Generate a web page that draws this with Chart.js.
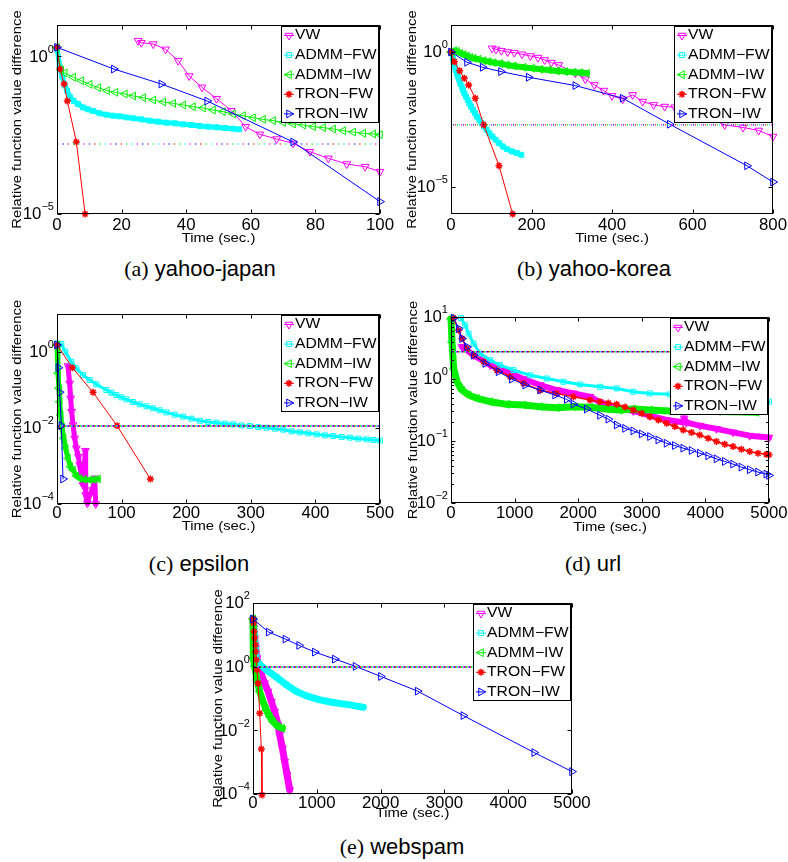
<!DOCTYPE html>
<html>
<head>
<meta charset="utf-8">
<script src="https://cdn.jsdelivr.net/npm/chart.js@4.4.1/dist/chart.umd.min.js"></script>
<style>
body { margin: 0; background: #fff; width: 788px; height: 862px; position: relative; overflow: hidden; }
canvas { position: absolute; }
.cap { position: absolute; font: 22px "Liberation Sans", Arial, sans-serif; white-space: nowrap; transform: translate(-50%, -50%); color: #000; }
.cap span { font-family: "Liberation Serif", "Times New Roman", serif; }
</style>
</head>
<body>
<canvas id="chartA" width="395" height="252" style="left:0px;top:0px"></canvas>
<canvas id="chartB" width="393" height="252" style="left:395px;top:0px"></canvas>
<canvas id="chartC" width="395" height="255" style="left:0px;top:290px"></canvas>
<canvas id="chartD" width="393" height="255" style="left:395px;top:290px"></canvas>
<canvas id="chartE" width="410" height="245" style="left:190px;top:585px"></canvas>
<div class="cap" style="left:200px;top:269px"><span>(a)</span> yahoo-japan</div>
<div class="cap" style="left:594px;top:269px"><span>(b)</span> yahoo-korea</div>
<div class="cap" style="left:199px;top:564px"><span>(c)</span> epsilon</div>
<div class="cap" style="left:593px;top:564px"><span>(d)</span> url</div>
<div class="cap" style="left:402px;top:847px"><span>(e)</span> webspam</div>
<script>
// series: [time (sec.), relative function value difference]
var seriesNames = ['VW', 'ADMM\u2212FW', 'ADMM\u2212IW', 'TRON\u2212FW', 'TRON\u2212IW'];

// (a) yahoo-japan
var japanVW = [[25.1,3.18],[26.1,2.75],[29.8,2.49],[33.6,1.69],[37.5,0.737],[40.9,0.24],[44.9,0.105],[49.4,0.0458],[54.0,0.0191],[58.4,0.0059],[62.8,0.00338],[68.0,0.0024],[73.1,0.00175],[78.3,9.5e-4],[84.0,5.85e-4],[89.7,3.86e-4],[95.4,3.18e-4],[100,2.21e-4]];
var japanAdmmFW = [[0,1.95],[0.83,0.476],[1.65,0.229],[2.38,0.125],[3.1,0.0823],[4.13,0.0505],[5.17,0.0387],[6.5,0.031],[8.06,0.0243],[9.6,0.021],[11.2,0.0186],[13.2,0.0157],[15.3,0.0142],[17.4,0.0132],[19.4,0.0126],[21.5,0.0117],[23.6,0.0109],[26.1,0.0101],[28.7,0.00918],[31.3,0.00853],[33.9,0.00793],[36.5,0.00755],[39.0,0.00702],[41.6,0.00669],[44.2,0.00622],[46.8,0.00592],[49.4,0.00564],[52.0,0.00537],[54.5,0.00512],[56.4,0.00487]];
var japanAdmmIW = [[0,1.95],[1.3,0.373],[2.4,0.3],[5.0,0.22],[7.5,0.17],[10.1,0.131],[12.8,0.1025],[15.5,0.0823],[18.1,0.0728],[21.0,0.0645],[23.6,0.0557],[26.7,0.0493],[29.8,0.0416],[32.9,0.036],[36.0,0.0326],[39.1,0.0289],[42.1,0.0255],[45.2,0.0232],[48.3,0.02],[51.4,0.0177],[54.5,0.015],[57.6,0.0132],[60.7,0.0114],[63.8,0.0101],[66.9,0.0092],[70.0,0.0081],[73.1,0.0072],[76.2,0.0067],[79.3,0.0059],[82.4,0.0055],[85.5,0.005],[88.6,0.0044],[91.7,0.004],[94.8,0.00364],[97.9,0.00347],[100,0.0033]];
var japanTronFW = [[0,1.95],[0.9,0.4],[2.2,0.134],[3.2,0.0386],[6.0,0.00193],[8.7,1e-5]];
var japanTronIW = [[0,1.95],[17.6,0.4],[32.3,0.134],[46.5,0.0386],[73.1,0.00193],[100,2.47e-5]];
var japanRef = 0.00167;
var japanXTicks = [0, 20, 40, 60, 80, 100];
var japanYExp = [0, -5];

// (b) yahoo-korea
var koreaVW = [[101.9,1.37],[111.8,1.26],[125,1.12],[140.8,1.0],[157.3,0.948],[176.4,0.822],[197.1,0.713],[216.1,0.619],[232.7,0.507],[249.3,0.404],[267.5,0.332],[308.9,0.163],[333.7,0.098],[356.1,0.0604],[379.3,0.0373],[400,0.0237],[426.5,0.0178],[451.3,0.0258],[476.2,0.0146],[503.5,0.011],[530.8,0.00955],[555.7,0.00902],[582.2,0.0072],[611.2,0.0054],[641.8,0.00385],[679.9,0.002],[725.5,0.0016],[764.4,0.00124],[800,7.4e-4]];
var koreaAdmmFW = [[0,0.98],[2.5,0.895],[5.0,0.585],[6.6,0.404],[9.1,0.288],[11.6,0.217],[14.9,0.163],[17.4,0.123],[20.7,0.0925],[23.2,0.0696],[26.5,0.0524],[29.8,0.0395],[33.1,0.0297],[37.3,0.0224],[41.4,0.0169],[45.5,0.0127],[49.7,0.00955],[54.7,0.0072],[59.6,0.00542],[64.6,0.00408],[70.4,0.00307],[76.2,0.00231],[82.0,0.00174],[88.6,0.00131],[95.2,9.86e-4],[102.7,7.43e-4],[111.0,5.59e-4],[119.3,4.21e-4],[129.2,3.17e-4],[139.1,2.52e-4],[151.6,2.07e-4],[164.0,1.8e-4],[174.7,1.56e-4]];
var koreaAdmmIW = [[0,1.0],[2.5,0.975],[8.3,1.12],[14.9,1.06],[23.2,0.895],[31.5,0.8],[39.8,0.713],[48.0,0.637],[56.3,0.585],[68.7,0.537],[81.2,0.48],[93.6,0.44],[106.0,0.404],[122.6,0.371],[139.1,0.332],[155.7,0.305],[180.5,0.272],[201.2,0.25],[221.9,0.229],[242.6,0.217],[263.4,0.199],[284.1,0.188],[304.8,0.178],[321.3,0.173],[337.9,0.163]];
var koreaTronFW = [[0,1.0],[8.3,0.44],[21.5,0.2],[33.1,0.107],[43.9,0.0604],[60.4,0.0194],[81.2,0.002],[119.3,6.1e-5],[153.2,1e-6]];
var koreaTronIW = [[0,1.0],[39.8,0.416],[78.7,0.272],[124.2,0.188],[193,0.116],[308.9,0.057],[426.5,0.0194],[543.3,0.00212],[735.4,6.1e-5],[800,1.52e-5]];
var koreaRef = 0.002;
var koreaXTicks = [0, 200, 400, 600, 800];
var koreaYExp = [0, -5];

// (c) epsilon
var epsilonVW = [[17.0,0.428],[19.6,0.15],[21.2,0.0604],[22.7,0.0269],[24.8,0.012],[27.4,0.00535],[30.0,0.00292],[33.1,0.00176],[35.1,0.00106],[37.7,5.8e-4],[40.3,3.16e-4],[43.9,0.00253],[44.4,1.73e-4],[47.0,1.04e-4],[50.6,1.73e-4],[54.8,2.33e-4],[58.4,4.73e-4],[59.9,1e-4]];
var epsilonAdmmFW = [[0,1.69],[6.7,1.62],[12.9,1.02],[22.2,0.557],[30.0,0.372],[40.3,0.248],[50.6,0.183],[61.0,0.141],[76.4,0.1],[84.2,0.0851],[91.9,0.0738],[99.7,0.0641],[107.4,0.0568],[117.8,0.0483],[128.1,0.042],[138.4,0.0372],[148.8,0.033],[159.1,0.0292],[169.4,0.0258],[182.3,0.0224],[195.2,0.0199],[208.2,0.0176],[221.1,0.0156],[234.0,0.0144],[246.9,0.0138],[259.8,0.013],[272.7,0.0125],[285.6,0.0117],[298.6,0.0113],[311.5,0.0106],[324.4,0.0102],[337.3,0.0096],[350.2,0.00904],[363.1,0.00817],[376.0,0.00769],[388.9,0.00724],[401.9,0.00681],[414.8,0.00641],[427.7,0.00615],[440.6,0.0058],[453.5,0.00557],[466.4,0.00524],[479.3,0.00503],[489.7,0.00483],[500,0.00464]];
var epsilonAdmmIW = [[0,1.53],[1.5,0.275],[3.1,0.111],[4.1,0.0493],[5.7,0.022],[7.7,0.0108],[10.3,0.00535],[13.4,0.00292],[17.0,0.00159],[20.7,9.6e-4],[24.8,7.85e-4],[30,5.5e-4],[35.1,4.73e-4],[42,4.4e-4],[50.6,4.3e-4],[57,4.4e-4],[63.5,4.55e-4]];
var epsilonTronFW = [[0,1.53],[23.8,0.387],[55.8,0.0868],[93.0,0.0115],[144.6,4.55e-4]];
var epsilonTronIW = [[0,1.53],[2.1,0.387],[4.1,0.0868],[6.7,0.0115],[9.3,4.55e-4]];
var epsilonRef = 0.0113;
var epsilonXTicks = [0, 100, 200, 300, 400, 500];
var epsilonYExp = [0, -2, -4];

// (d) url
var urlVW = [[173,3.3],[356,2.42],[617,1.67],[879,1.31],[1140,1.0],[1402,0.8],[1663,0.663],[1925,0.586],[2186,0.518],[2343,0.42],[2605,0.345],[2866,0.305],[3128,0.256],[3389,0.218],[3651,0.2],[3666,0.232],[3700,0.198],[3912,0.177],[4174,0.157],[4435,0.138],[4697,0.122],[5000,0.1135]];
var urlAdmmFW = [[157,9.6],[225,7.35],[277,5.4],[356,3.73],[460,2.58],[617,2.01],[774,1.67],[983,1.39],[1245,1.15],[1506,1.02],[1768,0.902],[2029,0.817],[2343,0.75],[2605,0.705],[2866,0.623],[3128,0.586],[3441,0.565],[5000,0.43]];
var urlAdmmIW = [[0,9.4],[16,3.96],[42,1.48],[94,0.9],[173,0.663],[277,0.551],[408,0.487],[617,0.43],[879,0.39],[1140,0.38],[1402,0.358],[1663,0.345],[1925,0.358],[2186,0.349],[2448,0.328],[2657,0.316],[2866,0.328],[3128,0.316],[3441,0.305],[4200,0.3],[4800,0.29]];
var urlTronFW = [[42,9.6],[120,6.1],[173,4.49],[251,3.1],[356,2.42],[513,1.89],[722,1.39],[931,1.09],[1140,0.85],[1402,0.66],[1663,0.586],[1925,0.518],[2186,0.458],[2343,0.43],[2474,0.41],[2605,0.39],[2736,0.353],[2866,0.316],[2997,0.279],[3128,0.247],[3259,0.218],[3389,0.193],[3520,0.171],[3651,0.151],[3782,0.137],[3912,0.125],[4043,0.111],[4174,0.098],[4305,0.0887],[4435,0.0814],[4566,0.0738],[4697,0.0676],[4828,0.0636],[4958,0.0614],[5000,0.0598]];
var urlTronIW = [[42,9.6],[120,6.5],[173,4.49],[251,3.3],[356,2.42],[539,1.78],[748,1.31],[957,0.996],[1166,0.797],[1402,0.663],[1637,0.551],[1820,0.469],[1925,0.394],[2134,0.328],[2343,0.26],[2474,0.225],[2605,0.182],[2736,0.16],[2866,0.1455],[2997,0.13],[3128,0.118],[3259,0.104],[3389,0.092],[3520,0.0845],[3651,0.0766],[3782,0.0702],[3912,0.0636],[4043,0.0577],[4174,0.0516],[4305,0.0468],[4435,0.0424],[4566,0.0379],[4697,0.0344],[4828,0.0315],[4958,0.0292],[5000,0.0279]];
var urlRef = 2.74;
var urlXTicks = [0, 1000, 2000, 3000, 4000, 5000];
var urlYExp = [1, 0, -1, -2];

// (e) webspam
var webspamVW = [[0,29.9],[10,16.3],[26,7.92],[42,3.84],[63,1.86],[94,1.02],[131,0.556],[183,0.303],[236,0.166],[288,0.0805],[340,0.039],[393,0.0148],[419,0.0072],[461,0.00274],[497,0.00104],[534,3.96e-4],[576,1.34e-4]];
var webspamAdmmFW = [[0,33.7],[52,1.65],[105,1.15],[209,0.798],[366,0.469],[524,0.269],[681,0.166],[838,0.121],[1047,0.0908],[1257,0.0748],[1518,0.0632],[1728,0.0533]];
var webspamAdmmIW = [[0,31.3],[5,1.86],[26,1.02],[63,0.386],[105,0.166],[157,0.0805],[209,0.044],[262,0.0271],[314,0.0189],[393,0.0131],[461,0.0116]];
var webspamTronFW = [[0,32.1],[10,23.5],[16,12.8],[26,7.92],[37,4.89],[42,3.01],[52,1.65],[63,0.798],[79,0.303],[105,0.0345],[131,0.0026],[141,9.3e-5]];
var webspamTronIW = [[0,31.3],[246,12.2],[508,7.36],[723,4.66],[969,2.87],[1283,1.73],[1607,1.02],[2005,0.492],[2581,0.17],[3298,0.029],[4408,0.002],[5000,5.05e-4]];
var webspamRef = 0.98;
var webspamXTicks = [0, 1000, 2000, 3000, 4000, 5000];
var webspamYExp = [2, 0, -2, -4];

var xTitle = 'Time (sec.)';
var yTitle = 'Relative function value difference';

// looks
var seriesColors = ['#ff00ff', '#00ffff', '#00f000', '#ff0000', '#0000ff'];
var seriesStyles = [
    { pointStyle: 'triangle', rotation: 180, radius: 4.5, width: 1 },
    { pointStyle: 'rect', rotation: 0, radius: 3.5, width: 1 },
    { pointStyle: 'triangle', rotation: 270, radius: 4.5, width: 1 },
    { pointStyle: 'star', rotation: 0, radius: 3.5, width: 1.5 },
    { pointStyle: 'triangle', rotation: 90, radius: 4.5, width: 1 }
];
var SANS = '"Liberation Sans", Arial, Helvetica, sans-serif';

function drawText(ctx, s, x, y, size, align, sx) {
    ctx.save();
    ctx.font = size + 'px ' + SANS;
    ctx.textAlign = align;
    ctx.textBaseline = 'middle';
    ctx.translate(x, y);
    ctx.scale(sx, 1);
    ctx.fillText(s, 0, 0);
    ctx.restore();
}

function textWidth(ctx, s, size, sx) {
    ctx.save();
    ctx.font = size + 'px ' + SANS;
    var w = ctx.measureText(s).width * sx;
    ctx.restore();
    return w;
}

function axesPlugin(panel) {
    return {
        id: 'matlabAxes',
        afterDatasetsDraw: function (chart) {
            var ctx = chart.ctx, a = chart.chartArea;
            var xs = chart.scales.x, ys = chart.scales.y;
            var L = Math.round(a.left) + 0.5, R = Math.round(a.right) - 0.5;
            var T = Math.round(a.top) + 0.5, B = Math.round(a.bottom) - 0.5;
            ctx.save();
            ctx.strokeStyle = '#000';
            ctx.fillStyle = '#000';
            ctx.lineWidth = 1;
            ctx.strokeRect(L, T, R - L, B - T);

            ctx.beginPath();
            panel.xTicks.forEach(function (v) {
                var x = Math.round(xs.getPixelForValue(v)) + 0.5;
                ctx.moveTo(x, B); ctx.lineTo(x, B - 4);
                ctx.moveTo(x, T); ctx.lineTo(x, T + 4);
            });
            panel.yExp.forEach(function (e) {
                var y = Math.round(ys.getPixelForValue(Math.pow(10, e))) + 0.5;
                ctx.moveTo(L, y); ctx.lineTo(L + 4, y);
                ctx.moveTo(R, y); ctx.lineTo(R - 4, y);
            });
            if (panel.minor) {
                for (var e = -2; e < 1; e++) {
                    for (var m = 2; m < 10; m++) {
                        var y = Math.round(ys.getPixelForValue(m * Math.pow(10, e))) + 0.5;
                        ctx.moveTo(L, y); ctx.lineTo(L + 2.5, y);
                        ctx.moveTo(R, y); ctx.lineTo(R - 2.5, y);
                    }
                }
            }
            ctx.stroke();

            panel.xTicks.forEach(function (v) {
                drawText(ctx, String(v), xs.getPixelForValue(v), a.bottom + panel.tickDy, 16, 'center', 1.05);
            });
            panel.yExp.forEach(function (e) {
                var y = ys.getPixelForValue(Math.pow(10, e));
                var ex = e < 0 ? '\u2212' + (-e) : String(e);
                var xr = a.left - 3;
                var ew = textWidth(ctx, ex, 10.5, 1.05);
                drawText(ctx, ex, xr, y - 6.5, 10.5, 'right', 1.05);
                drawText(ctx, '10', xr - ew, y + 1, 16, 'right', 1.05);
            });

            drawText(ctx, xTitle, (a.left + a.right) / 2, a.bottom + panel.titleDy, 13.5, 'center', 1.1);
            ctx.save();
            ctx.translate(a.left + panel.ylabDx, (a.top + a.bottom) / 2);
            ctx.rotate(-Math.PI / 2);
            drawText(ctx, yTitle, 0, 0, 13.5, 'center', 1.1);
            ctx.restore();

            // legend box, top right inside the axes
            var lw = 98, lh = 97;
            var lx = Math.round(a.right) - 1 - lw, ly = Math.round(a.top) + 1;
            ctx.fillStyle = '#fff';
            ctx.fillRect(lx, ly, lw, lh);
            ctx.strokeStyle = '#000';
            ctx.strokeRect(lx + 0.5, ly + 0.5, lw - 1, lh - 1);
            seriesNames.forEach(function (name, i) {
                var st = seriesStyles[i];
                var y = ly + 9.5 + i * 19.6;
                ctx.strokeStyle = seriesColors[i];
                ctx.lineWidth = 1;
                ctx.beginPath();
                ctx.moveTo(lx + 3, y); ctx.lineTo(lx + 13, y);
                ctx.stroke();
                ctx.fillStyle = 'rgba(0,0,0,0)';
                ctx.lineWidth = st.width;
                if (Chart.helpers && Chart.helpers.drawPoint) {
                    Chart.helpers.drawPoint(ctx, { pointStyle: st.pointStyle, rotation: st.rotation, radius: st.radius, borderWidth: st.width }, lx + 8, y);
                }
                ctx.fillStyle = '#000';
                drawText(ctx, name, lx + 14, y, 14, 'left', 1.12);
            });
            ctx.restore();
        }
    };
}

// band: line width that stands in for the tightly packed markers of a series
function seriesDatasets(list, band) {
    return list.map(function (pts, i) {
        var st = seriesStyles[i];
        return {
            label: seriesNames[i],
            data: pts.map(function (p) { return { x: p[0], y: p[1] }; }),
            borderColor: seriesColors[i],
            backgroundColor: 'rgba(0,0,0,0)',
            borderWidth: band[i],
            borderJoinStyle: 'round',
            borderCapStyle: 'round',
            pointStyle: st.pointStyle,
            pointRotation: st.rotation,
            pointRadius: st.radius,
            pointBorderWidth: st.width,
            pointBorderColor: seriesColors[i],
            pointBackgroundColor: 'rgba(0,0,0,0)',
            fill: false,
            tension: 0,
            order: 5 - i,
            clip: 6
        };
    });
}

function refDatasets(value, xMax, mode) {
    var dash = mode === 'sparse' ? [1.5, 25] : (mode === 'mid' ? [1, 9] : [1, 4]);
    var step = mode === 'sparse' ? 5.3 : (mode === 'mid' ? 2 : 1);
    return seriesColors.map(function (c, k) {
        return {
            label: '',
            data: [{ x: 0, y: value }, { x: xMax, y: value }],
            borderColor: c,
            borderWidth: mode === 'dense' ? 1.5 : 1.2,
            borderDash: dash,
            borderDashOffset: k * step,
            pointRadius: 0,
            fill: false,
            order: 0
        };
    });
}

var panels = [
    { canvas: 'chartA', pad: [57, 25, 15, 38], xMax: 100, yMin: 1e-5, yMax: 10, xTicks: japanXTicks, yExp: japanYExp,
      series: [japanVW, japanAdmmFW, japanAdmmIW, japanTronFW, japanTronIW], band: [1, 5, 1, 1, 1], ref: japanRef, refMode: 'sparse',
      tickDy: 12, titleDy: 24.5, ylabDx: -40, minor: false },
    { canvas: 'chartB', pad: [56, 25, 15, 38], xMax: 800, yMin: 1e-6, yMax: 10, xTicks: koreaXTicks, yExp: koreaYExp,
      series: [koreaVW, koreaAdmmFW, koreaAdmmIW, koreaTronFW, koreaTronIW], band: [1, 5, 6, 1, 1], ref: koreaRef, refMode: 'mid',
      tickDy: 12, titleDy: 24.5, ylabDx: -39, minor: false },
    { canvas: 'chartC', pad: [57, 24, 15, 41], xMax: 500, yMin: 1e-4, yMax: 10, xTicks: epsilonXTicks, yExp: epsilonYExp,
      series: [epsilonVW, epsilonAdmmFW, epsilonAdmmIW, epsilonTronFW, epsilonTronIW], band: [5, 3, 5, 1, 1], ref: epsilonRef, refMode: 'dense',
      tickDy: 10, titleDy: 22, ylabDx: -40, minor: false },
    { canvas: 'chartD', pad: [56, 27, 19, 42], xMax: 5000, yMin: 1e-2, yMax: 10, xTicks: urlXTicks, yExp: urlYExp,
      series: [urlVW, urlAdmmFW, urlAdmmIW, urlTronFW, urlTronIW], band: [6, 3, 7, 1.5, 1], ref: urlRef, refMode: 'dense',
      tickDy: 11, titleDy: 24.5, ylabDx: -38, minor: true },
    { canvas: 'chartE', pad: [63, 18, 28, 36], xMax: 5000, yMin: 1e-4, yMax: 100, xTicks: webspamXTicks, yExp: webspamYExp,
      series: [webspamVW, webspamAdmmFW, webspamAdmmIW, webspamTronFW, webspamTronIW], band: [7, 7, 7, 1, 1], ref: webspamRef, refMode: 'dense',
      tickDy: 9.5, titleDy: 19, ylabDx: -35, minor: false }
];

panels.forEach(function (p) {
    var ctx = document.getElementById(p.canvas).getContext('2d');
    new Chart(ctx, {
        type: 'line',
        data: {
            datasets: seriesDatasets(p.series, p.band).concat(refDatasets(p.ref, p.xMax, p.refMode))
        },
        options: {
            responsive: false,
            animation: false,
            events: [],
            layout: { padding: { left: p.pad[0], top: p.pad[1], right: p.pad[2], bottom: p.pad[3] } },
            plugins: {
                legend: { display: false },
                tooltip: { enabled: false },
                title: { display: false }
            },
            scales: {
                x: { type: 'linear', min: 0, max: p.xMax, display: false },
                y: { type: 'logarithmic', min: p.yMin, max: p.yMax, display: false }
            }
        },
        plugins: [axesPlugin(p)]
    });
});
</script>
</body>
</html>
